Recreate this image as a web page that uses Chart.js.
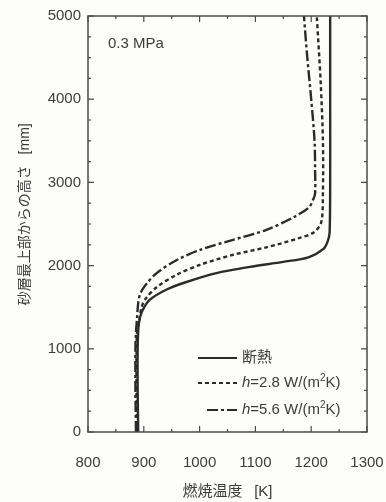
<!DOCTYPE html>
<html>
<head>
<meta charset="utf-8">
<script src="https://cdn.jsdelivr.net/npm/chart.js@4.4.1/dist/chart.umd.min.js"></script>
<style>
  body { margin: 0; background: #fdfdfc; }
  #wrap { width: 386px; height: 502px; }
</style>
</head>
<body>
<div id="wrap"><canvas id="chart"></canvas></div>
<script>
// temperature [K] vs height from top of sand layer [mm]
var heightAdiabatic = [0, 500, 1000, 1300, 1450, 1590, 1710, 1800, 1910, 1985, 2045, 2100, 2200, 2300, 2400, 3000, 4000, 5000];
var tempAdiabatic   = [890, 889, 889, 891, 897, 911, 940, 975, 1030, 1090, 1150, 1195, 1222, 1230, 1233, 1234, 1234, 1234];

var heightH28 = [0, 500, 1000, 1200, 1350, 1500, 1600, 1740, 1890, 2010, 2130, 2220, 2330, 2400, 2520, 2870, 3500, 4200, 5000];
var tempH28   = [888, 887, 887, 888, 892, 896, 903, 923, 959, 1001, 1060, 1120, 1178, 1205, 1218, 1221, 1221, 1217, 1210];

var heightH56 = [0, 500, 1000, 1200, 1380, 1550, 1670, 1790, 1910, 2070, 2190, 2310, 2430, 2580, 2700, 2800, 2870, 3150, 3500, 4000, 4500, 5000];
var tempH56   = [886, 885, 885, 886, 888, 890, 894, 906, 923, 960, 1001, 1060, 1120, 1168, 1196, 1204, 1207, 1207, 1206, 1200, 1193, 1187];

var xTicks = [800, 900, 1000, 1100, 1200, 1300];
var yTicks = [0, 1000, 2000, 3000, 4000, 5000];

var pressureLabel = "0.3 MPa";
var seriesNames = ["断熱", "h=2.8 W/(m2K)", "h=5.6 W/(m2K)"];
var xTitle = "燃焼温度\u2002 [K]";
var yTitle = "     砂層最上部からの高さ\u2002 [mm]";

function pts(xs, ys) {
  var out = [];
  for (var i = 0; i < xs.length; i++) out.push({ x: xs[i], y: ys[i] });
  return out;
}

var ink = "#2b2b2b";
var txt = "#3c3c3c";
var latin = "'Liberation Sans', Arial, sans-serif";
var cjk = "'Liberation Sans', 'Noto Sans CJK JP', sans-serif";

var dashes = [[], [4, 3], [11, 3, 3, 3]];

// frame, inward ticks, label and legend
var decorations = {
  id: "decorations",
  afterDraw: function(chart) {
    var ctx = chart.ctx;
    var a = chart.chartArea;
    var xs = chart.scales.x, ys = chart.scales.y;
    ctx.save();
    ctx.strokeStyle = "#4a4a4a";
    ctx.lineWidth = 1.5;
    ctx.strokeRect(a.left, a.top, a.right - a.left, a.bottom - a.top);

    ctx.lineWidth = 1.2;
    ctx.beginPath();
    for (var v = xs.min; v <= xs.max; v += 50) {
      var px = xs.getPixelForValue(v);
      var len = (v % 100 === 0) ? 6 : 3;
      ctx.moveTo(px, a.bottom); ctx.lineTo(px, a.bottom - len);
      ctx.moveTo(px, a.top); ctx.lineTo(px, a.top + len);
    }
    for (var w = ys.min; w <= ys.max; w += 250) {
      var py = ys.getPixelForValue(w);
      var l2 = (w % 1000 === 0) ? 6 : 3;
      ctx.moveTo(a.left, py); ctx.lineTo(a.left + l2, py);
      ctx.moveTo(a.right, py); ctx.lineTo(a.right - l2, py);
    }
    ctx.stroke();

    // pressure label
    ctx.fillStyle = txt;
    ctx.font = "15px " + latin;
    ctx.textBaseline = "middle";
    ctx.textAlign = "left";
    ctx.fillText(pressureLabel, a.left + 20, a.top + 28);

    // legend
    var rows = [a.bottom - 74, a.bottom - 49, a.bottom - 22];
    for (var i = 0; i < 3; i++) {
      var y = rows[i];
      ctx.strokeStyle = ink;
      ctx.lineWidth = 2;
      ctx.setLineDash(dashes[i]);
      ctx.beginPath();
      ctx.moveTo(i === 2 ? 207 : 198, y);
      ctx.lineTo(237, y);
      ctx.stroke();
      ctx.setLineDash([]);
      var x = 242;
      if (i === 0) {
        ctx.font = "15px " + cjk;
        ctx.fillText(seriesNames[0], x, y);
      } else {
        var name = seriesNames[i];
        ctx.font = "italic 15px " + latin;
        ctx.fillText("h", x, y);
        x += ctx.measureText("h").width;
        ctx.font = "15px " + latin;
        var p1 = name.slice(1, name.indexOf("m2") + 1);
        ctx.fillText(p1, x, y);
        x += ctx.measureText(p1).width;
        ctx.font = "10px " + latin;
        ctx.fillText("2", x, y - 5);
        x += ctx.measureText("2").width;
        ctx.font = "15px " + latin;
        ctx.fillText(name.slice(name.indexOf("m2") + 2), x, y);
      }
    }
    ctx.restore();
  }
};

var ctx = document.getElementById("chart");

var data = {
  datasets: [
    {
      label: seriesNames[0],
      data: pts(tempAdiabatic, heightAdiabatic),
      borderColor: ink,
      borderWidth: 2.4,
      borderDash: dashes[0],
      showLine: true,
      pointRadius: 0,
      tension: 0.3
    },
    {
      label: seriesNames[1],
      data: pts(tempH28, heightH28),
      borderColor: ink,
      borderWidth: 2.4,
      borderDash: dashes[1],
      showLine: true,
      pointRadius: 0,
      tension: 0.3
    },
    {
      label: seriesNames[2],
      data: pts(tempH56, heightH56),
      borderColor: ink,
      borderWidth: 2.4,
      borderDash: dashes[2],
      showLine: true,
      pointRadius: 0,
      tension: 0.3
    }
  ]
};

var chart = new Chart(ctx, {
  type: "scatter",
  data: data,
  options: {
    responsive: true,
    maintainAspectRatio: false,
    animation: false,
    layout: { padding: 0 },
    plugins: { legend: { display: false }, tooltip: { enabled: false } },
    scales: {
      x: {
        type: "linear",
        min: 800,
        max: 1300,
        afterBuildTicks: function(s) { s.ticks = xTicks.map(function(v) { return { value: v }; }); },
        afterFit: function(s) { s.height = 70; s.paddingLeft = 0; s.paddingRight = 19; },
        grid: { display: false, drawTicks: false },
        border: { display: false },
        ticks: { color: txt, font: { family: latin, size: 15 }, padding: 22, maxRotation: 0,
                 callback: function(v) { return String(v); } },
        title: { display: true, text: xTitle, color: txt, font: { family: cjk, size: 15 }, padding: { top: 0, bottom: 1 } }
      },
      y: {
        type: "linear",
        min: 0,
        max: 5000,
        afterBuildTicks: function(s) { s.ticks = yTicks.map(function(v) { return { value: v }; }); },
        afterFit: function(s) { s.width = 88; s.paddingTop = 16; s.paddingBottom = 0; },
        grid: { display: false, drawTicks: false },
        border: { display: false },
        ticks: { color: txt, font: { family: latin, size: 15 }, padding: 7,
                 callback: function(v) { return String(v); } },
        title: { display: true, text: yTitle, color: txt, font: { family: cjk, size: 14 }, padding: { top: 17, bottom: 0 } }
      }
    }
  },
  plugins: [decorations]
});
</script>
</body>
</html>
